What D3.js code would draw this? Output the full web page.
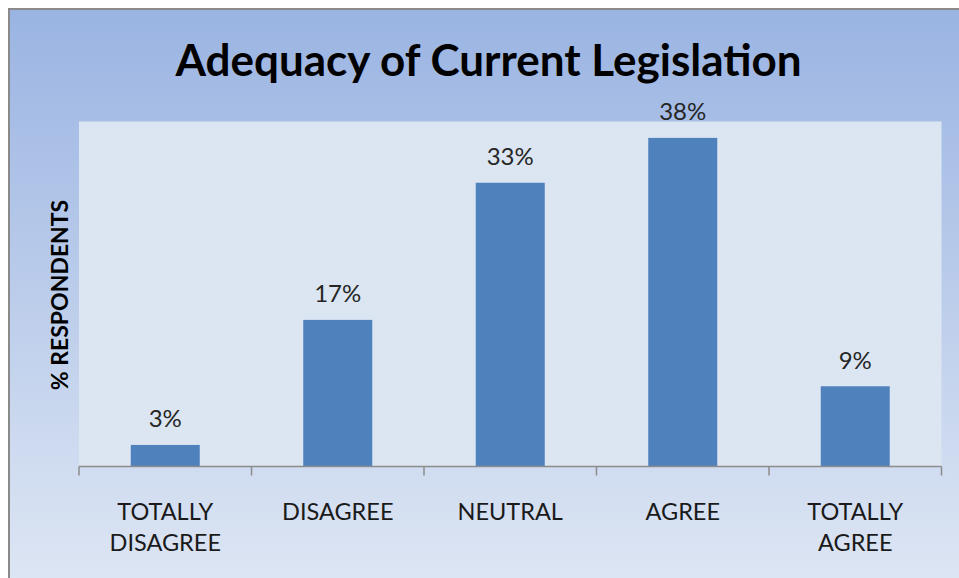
<!DOCTYPE html>
<html><head><meta charset="utf-8">
<script src="https://cdn.jsdelivr.net/npm/d3@7"></script>
<style>html,body{margin:0;padding:0;background:#fff;}svg{display:block;}</style>
</head><body>
<svg id="chart" width="959" height="578"></svg>
<script>
const categories = [["TOTALLY","DISAGREE"],["DISAGREE"],["NEUTRAL"],["AGREE"],["TOTALLY","AGREE"]];
const values = [2.5, 17, 32.9, 38.1, 9.3];
const valueLabels = ["3%","17%","33%","38%","9%"];
const title = "Adequacy of Current Legislation";
const yTitle = "% RESPONDENTS";

const svg = d3.select("#chart");
const W = 959, H = 578;
const FONT = "Lato, 'Open Sans', sans-serif";
const defs = svg.append("defs");
const g = defs.append("linearGradient").attr("id","bg").attr("x1",0).attr("y1",0).attr("x2",0).attr("y2",1);
g.append("stop").attr("offset","0%").attr("stop-color","#9ab4e2");
g.append("stop").attr("offset","100%").attr("stop-color","#dfe7f4");

svg.append("rect").attr("x",9).attr("y",9).attr("width",W+10).attr("height",H+10)
  .attr("fill","url(#bg)").attr("stroke","#8a8a8a").attr("stroke-width",2);

const plot = {l:79, r:941.5, t:121.5, b:466.5};
svg.append("rect").attr("x",plot.l).attr("y",plot.t).attr("width",plot.r-plot.l).attr("height",plot.b-plot.t)
  .attr("fill","#dce6f2");

const x = d3.scaleBand().domain(d3.range(categories.length)).range([plot.l, plot.r]).padding(0);
const y = d3.scaleLinear().domain([0,40]).range([plot.b, plot.t]);
const bw = x.bandwidth()*0.4;

svg.selectAll("rect.bar").data(values).join("rect").attr("class","bar")
  .attr("x",(d,i)=>x(i)+x.bandwidth()/2-bw/2).attr("width",bw)
  .attr("y",d=>y(d)).attr("height",d=>plot.b-y(d)).attr("fill","#4f81bd");

svg.selectAll("text.vl").data(values).join("text").attr("class","vl")
  .attr("x",(d,i)=>x(i)+x.bandwidth()/2).attr("y",d=>y(d)-17.5)
  .attr("text-anchor","middle").attr("font-family",FONT).attr("font-size",24)
  .attr("fill","#262626").text((d,i)=>valueLabels[i]);

// x axis
const ax = svg.append("g").attr("stroke","#8c8c8c").attr("stroke-width",1.5);
ax.append("line").attr("x1",plot.l).attr("x2",plot.r).attr("y1",plot.b).attr("y2",plot.b);
const tickPos = d3.range(categories.length+1).map(i=> i<categories.length ? x(i) : plot.r);
ax.selectAll("line.t").data(tickPos).join("line").attr("class","t")
  .attr("x1",d=>d).attr("x2",d=>d).attr("y1",plot.b).attr("y2",plot.b+9);

const cl = svg.selectAll("text.cat").data(categories).join("text").attr("class","cat")
  .attr("text-anchor","middle").attr("font-family",FONT).attr("font-size",23.5)
  .attr("fill","#1a1a1a");
cl.each(function(d,i){
  const t = d3.select(this);
  d.forEach((line,k)=>{
    t.append("tspan").attr("x",x(i)+x.bandwidth()/2).attr("y",520+k*31).text(line);
  });
});

svg.append("text").attr("x",488.5).attr("y",76).attr("text-anchor","middle")
  .attr("font-family",FONT).attr("font-weight","bold").attr("font-size",44)
  .attr("fill","#000").text(title);

svg.append("text").attr("transform","translate(68,295) rotate(-90)").attr("text-anchor","middle")
  .attr("font-family",FONT).attr("font-weight","bold").attr("font-size",23)
  .attr("fill","#000").text(yTitle);
</script>
</body></html>
